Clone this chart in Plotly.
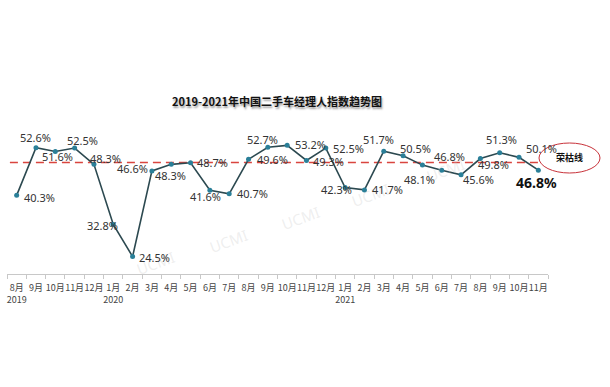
import plotly.graph_objects as go

months = ["8月", "9月", "10月", "11月", "12月",
          "1月", "2月", "3月", "4月", "5月", "6月", "7月", "8月", "9月", "10月", "11月", "12月",
          "1月", "2月", "3月", "4月", "5月", "6月", "7月", "8月", "9月", "10月", "11月"]
years = {0: "2019", 5: "2020", 17: "2021"}
values = [40.3, 52.6, 51.6, 52.5, 48.3,
          32.8, 24.5, 46.6, 48.3, 48.7, 41.6, 40.7, 49.6, 52.7, 53.2, 49.3, 52.5,
          42.3, 41.7, 51.7, 50.5, 48.1, 46.8, 45.6, 49.8, 51.3, 50.1, 46.8]
threshold = 48.8
title = "2019-2021年中国二手车经理人指数趋势图"
threshold_label = "荣枯线"

# label offsets in pixels (dx, dy)
label_offsets = [(23, 2), (0, -10), (2, 5), (8, -8), (12, -6),
                 (-11, 1), (22, 1), (-19, -2), (-1, 11), (22, 0), (-4, 6), (23, 0), (24, 0),
                 (-5, -8), (23, -1), (22, 1), (23, 0),
                 (-9, 2), (23, 0), (-5, -12), (12, -7), (-3, 14), (8, -14), (17, 5), (13, 6),
                 (2, -13), (22, -9), (-2, 12)]

# plot area in pixels
PL, PR, PT, PB = 7, 548, 119, 274


def px(xp):
    return (xp - PL) / (PR - PL)


def py(yp):
    return (PB - yp) / (PB - PT)


x = list(range(len(values)))
ticktext = [m + ("<br>" + years[i] if i in years else "<br> ") for i, m in enumerate(months)]

fig = go.Figure()
fig.add_trace(go.Scatter(
    x=x, y=values, mode="lines+markers",
    line=dict(color="#2c4950", width=1.6),
    marker=dict(color="#2a7f98", size=5),
    hoverinfo="skip", showlegend=False, cliponaxis=False,
))

# watermarks
for wx, wy in [(155, 263), (228, 241), (300, 218), (370, 195), (445, 170)]:
    fig.add_annotation(x=px(wx), y=py(wy), xref="paper", yref="paper",
                       xanchor="center", yanchor="middle",
                       text="UCMI", showarrow=False, textangle=-20,
                       font=dict(size=15, color="rgba(200,200,200,0.3)", family="Noto Sans"))

fig.add_shape(type="line", xref="x", yref="y", x0=-0.35, x1=27.09, y0=threshold, y1=threshold,
              line=dict(color="#d9453f", width=1.5, dash="8px,5px"), layer="below")

n = len(values)
for i, v in enumerate(values):
    dx, dy = label_offsets[i]
    last = i == n - 1
    fig.add_annotation(x=i, y=v, text=f"{v}%", showarrow=False,
                       xshift=dx, yshift=-dy,
                       font=dict(size=14 if last else 11, color="#111" if last else "#333",
                                 family="Noto Sans", weight="bold" if last else "normal"))

fig.add_shape(type="circle", xref="paper", yref="paper",
              x0=px(539), x1=px(600), y0=py(173), y1=py(143),
              line=dict(color="#c8323a", width=1))
fig.add_annotation(xref="paper", yref="paper", x=px(569), y=py(157), text=threshold_label,
                   xanchor="center", yanchor="middle", showarrow=False,
                   font=dict(size=9, color="#111", family="Noto Sans CJK SC", weight="bold"))

fig.update_layout(
    width=610, height=387,
    margin=dict(l=PL, r=610 - PR, t=PT, b=387 - PB, autoexpand=False),
    paper_bgcolor="white", plot_bgcolor="white",
    title=dict(text=title, x=277 / 610, xanchor="center", y=1 - 102 / 387, yanchor="middle",
               xref="container", yref="container",
               font=dict(size=11, color="#111", family="Noto Sans CJK SC", weight="bold",
                         shadow="1px 2px 2px #999")),
    xaxis=dict(range=[-0.5, n - 0.5], tickmode="array", tickvals=x, ticktext=ticktext,
               ticks="", showgrid=False, zeroline=False, tickangle=0, automargin=False,
               showline=True, linecolor="#c8c8c8", linewidth=1, ticklabelstandoff=5,
               tickfont=dict(size=9, color="#444", family="Noto Sans CJK SC"),
               minor=dict(tickmode="array", tickvals=[i - 0.5 for i in range(n + 1)],
                          ticks="outside", ticklen=4, tickcolor="#c8c8c8", showgrid=False)),
    yaxis=dict(range=[20, 60], visible=False, showgrid=False, zeroline=False, automargin=False),
)

fig.write_html("out.html", config={"displayModeBar": False},
               post_script="document.body.style.margin='0';document.body.style.overflow='hidden';")
